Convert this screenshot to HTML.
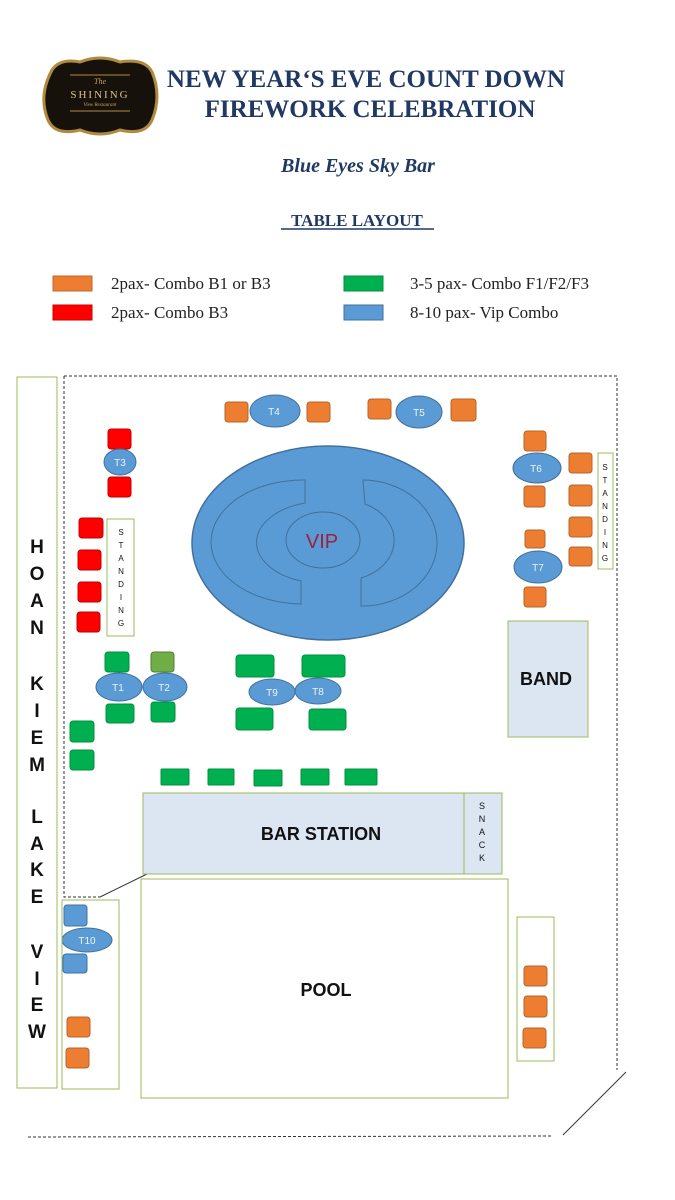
<!DOCTYPE html>
<html><head><meta charset="utf-8"><style>
html,body{margin:0;padding:0;background:#fff;}
svg{display:block}
</style></head><body>
<svg width="675" height="1200" viewBox="0 0 675 1200" xmlns="http://www.w3.org/2000/svg">
<!-- logo -->
<path d="M52,70 Q60,58 80,62 Q100,54 120,62 Q145,58 152,72 Q162,96 152,120 Q145,136 120,130 Q100,138 80,130 Q55,136 48,120 Q38,96 52,70 Z" fill="#17110c" stroke="#b08a3e" stroke-width="3"/>
<text x="100" y="84" font-family="Liberation Serif,serif" font-size="8" font-style="italic" fill="#c9a55a" text-anchor="middle">The</text>
<text x="100" y="98" font-family="Liberation Serif,serif" font-size="11" letter-spacing="2" fill="#d9c08a" text-anchor="middle">SHINING</text>
<text x="100" y="106" font-family="Liberation Serif,serif" font-size="5" font-style="italic" fill="#c9a55a" text-anchor="middle">View Restaurant</text>
<line x1="70" y1="111" x2="130" y2="111" stroke="#b08a3e" stroke-width="1"/>
<line x1="70" y1="75" x2="130" y2="75" stroke="#b08a3e" stroke-width="1"/>
<g font-family="Liberation Serif,serif" font-weight="bold" fill="#1f3864" text-anchor="middle">
<text x="366" y="87" font-size="25">NEW YEAR‘S EVE COUNT DOWN</text>
<text x="370" y="117" font-size="25">FIREWORK CELEBRATION</text>
<text x="358" y="172" font-size="20" font-style="italic">Blue Eyes Sky Bar</text>
<text x="357" y="226" font-size="17">TABLE LAYOUT</text>
</g>
<line x1="281" y1="229" x2="434" y2="229" stroke="#1f3864" stroke-width="1.5"/>
<!-- legend -->
<rect x="53" y="276" width="39" height="15" fill="#ed7d31" stroke="#c0682a"/>
<rect x="53" y="305" width="39" height="15" fill="#ff0000" stroke="#c00"/>
<rect x="344" y="276" width="39" height="15" fill="#00b050" stroke="#00903f"/>
<rect x="344" y="305" width="39" height="15" fill="#5b9bd5" stroke="#41719c"/>
<g font-family="Liberation Serif,serif" font-size="17" fill="#222">
<text x="111" y="289">2pax- Combo B1 or B3</text>
<text x="111" y="318">2pax- Combo B3</text>
<text x="410" y="289">3-5 pax- Combo F1/F2/F3</text>
<text x="410" y="318">8-10 pax- Vip Combo</text>
</g>
<!-- outline dashed -->
<g stroke="#333" stroke-width="1" stroke-dasharray="3,2" fill="none">
<path d="M64,376 L617,376 L617,1070"/>
<path d="M64,376 L64,897 L100,897"/>
<path d="M28,1137 L553,1136"/>
</g>
<line x1="100" y1="897" x2="149" y2="873" stroke="#333"/>
<line x1="626" y1="1072" x2="563" y2="1135" stroke="#333"/>
<!-- lake view -->
<rect x="17" y="377" width="40" height="711" fill="#fff" stroke="#9bbb59"/>
<g font-family="Liberation Sans,sans-serif" font-weight="bold" font-size="19" fill="#111" text-anchor="middle">
<text x="37" y="553">H</text><text x="37" y="580">O</text><text x="37" y="607">A</text><text x="37" y="634">N</text>
<text x="37" y="690">K</text><text x="37" y="717">I</text><text x="37" y="744">E</text><text x="37" y="771">M</text>
<text x="37" y="823">L</text><text x="37" y="850">A</text><text x="37" y="876">K</text><text x="37" y="903">E</text>
<text x="37" y="958">V</text><text x="37" y="985">I</text><text x="37" y="1011">E</text><text x="37" y="1038">W</text>
</g>
<!-- VIP -->
<ellipse cx="328" cy="543" rx="136" ry="97" fill="#5b9bd5" stroke="#41719c" stroke-width="1.5"/>
<g fill="none" stroke="#41719c" stroke-width="1">
<path d="M305,480 A92,62 0 0 0 301,604 L301,581 A67,41 0 0 1 305,503 Z"/>
<path d="M363,480 A75,63 0 0 1 361,606 L361,578 A50,40 0 0 0 365,504 Z"/>
<ellipse cx="323" cy="540" rx="37" ry="28"/>
</g>
<text x="322" y="548" font-family="Liberation Sans,sans-serif" font-size="20" fill="#a0203a" text-anchor="middle">VIP</text>
<!-- orange chairs -->
<g fill="#ed7d31" stroke="#b5652a">
<rect x="225" y="402" width="23" height="20" rx="3"/><rect x="307" y="402" width="23" height="20" rx="3"/>
<rect x="368" y="399" width="23" height="20" rx="3"/><rect x="451" y="399" width="25" height="22" rx="3"/>
<rect x="524" y="431" width="22" height="20" rx="3"/><rect x="524" y="486" width="21" height="21" rx="3"/>
<rect x="525" y="530" width="20" height="18" rx="3"/><rect x="524" y="587" width="22" height="20" rx="3"/>
<rect x="569" y="453" width="23" height="20" rx="3"/><rect x="569" y="485" width="23" height="21" rx="3"/>
<rect x="569" y="517" width="23" height="20" rx="3"/><rect x="569" y="547" width="23" height="19" rx="3"/>
<rect x="67" y="1017" width="23" height="20" rx="3"/><rect x="66" y="1048" width="23" height="20" rx="3"/>
<rect x="524" y="966" width="23" height="20" rx="3"/><rect x="524" y="996" width="23" height="21" rx="3"/><rect x="523" y="1028" width="23" height="20" rx="3"/>
</g>
<!-- red chairs -->
<g fill="#ff0000" stroke="#c00000">
<rect x="108" y="429" width="23" height="20" rx="3"/><rect x="108" y="477" width="23" height="20" rx="3"/>
<rect x="79" y="518" width="24" height="20" rx="3"/><rect x="78" y="550" width="23" height="20" rx="3"/>
<rect x="78" y="582" width="23" height="20" rx="3"/><rect x="77" y="612" width="23" height="20" rx="3"/>
</g>
<!-- green chairs -->
<g fill="#00b050" stroke="#00903f">
<rect x="105" y="652" width="24" height="20" rx="3"/>
<rect x="106" y="704" width="28" height="19" rx="3"/><rect x="151" y="702" width="24" height="20" rx="3"/>
<rect x="236" y="655" width="38" height="22" rx="3"/><rect x="302" y="655" width="43" height="22" rx="3"/>
<rect x="236" y="708" width="37" height="22" rx="3"/><rect x="309" y="709" width="37" height="21" rx="3"/>
<rect x="70" y="721" width="24" height="21" rx="3"/><rect x="70" y="750" width="24" height="20" rx="3"/>
<rect x="161" y="769" width="28" height="16" rx="1"/><rect x="208" y="769" width="26" height="16" rx="1"/>
<rect x="254" y="770" width="28" height="16" rx="1"/><rect x="301" y="769" width="28" height="16" rx="1"/><rect x="345" y="769" width="32" height="16" rx="1"/>
</g>
<rect x="151" y="652" width="23" height="20" rx="3" fill="#70ad47" stroke="#507e32"/>
<!-- blue chairs -->
<g fill="#5b9bd5" stroke="#41719c">
<rect x="64" y="905" width="23" height="21" rx="3"/><rect x="63" y="954" width="24" height="19" rx="3"/>
</g>
<!-- tables -->
<g fill="#5b9bd5" stroke="#41719c">
<ellipse cx="275" cy="411" rx="25" ry="16"/><ellipse cx="419" cy="412" rx="23" ry="16"/>
<ellipse cx="120" cy="462" rx="16" ry="13"/>
<ellipse cx="537" cy="468" rx="24" ry="15"/><ellipse cx="538" cy="567" rx="24" ry="16"/>
<ellipse cx="119" cy="687" rx="23" ry="14"/><ellipse cx="165" cy="687" rx="22" ry="14"/>
<ellipse cx="272" cy="692" rx="23" ry="13"/><ellipse cx="318" cy="691" rx="23" ry="13"/>
<ellipse cx="87" cy="940" rx="25" ry="12"/>
</g>
<g font-family="Liberation Sans,sans-serif" font-size="10" fill="#eef3fa" text-anchor="middle">
<text x="274" y="415">T4</text><text x="419" y="416">T5</text><text x="120" y="466">T3</text>
<text x="536" y="472">T6</text><text x="538" y="571">T7</text>
<text x="118" y="691">T1</text><text x="164" y="691">T2</text>
<text x="272" y="696">T9</text><text x="318" y="695">T8</text><text x="87" y="944">T10</text>
</g>
<!-- standing boxes -->
<rect x="107" y="519" width="27" height="117" fill="#fff" stroke="#9bbb59"/>
<rect x="598" y="453" width="15" height="116" fill="#fff" stroke="#9bbb59"/>
<g font-family="Liberation Sans,sans-serif" font-size="8" fill="#111" text-anchor="middle">
<text x="121" y="535">S</text><text x="121" y="548">T</text><text x="121" y="561">A</text><text x="121" y="574">N</text><text x="121" y="587">D</text><text x="121" y="600">I</text><text x="121" y="613">N</text><text x="121" y="626">G</text>
<text x="605" y="470">S</text><text x="605" y="483">T</text><text x="605" y="496">A</text><text x="605" y="509">N</text><text x="605" y="522">D</text><text x="605" y="535">I</text><text x="605" y="548">N</text><text x="605" y="561">G</text>
</g>
<!-- band -->
<rect x="508" y="621" width="80" height="116" fill="#dce6f2" stroke="#9bbb59"/>
<text x="546" y="685" font-family="Liberation Sans,sans-serif" font-weight="bold" font-size="18" fill="#111" text-anchor="middle">BAND</text>
<!-- bar -->
<rect x="143" y="793" width="321" height="81" fill="#dce6f2" stroke="#9bbb59"/>
<rect x="464" y="793" width="38" height="81" fill="#dce6f2" stroke="#9bbb59"/>
<text x="321" y="840" font-family="Liberation Sans,sans-serif" font-weight="bold" font-size="18" fill="#111" text-anchor="middle">BAR STATION</text>
<g font-family="Liberation Sans,sans-serif" font-size="9" fill="#111" text-anchor="middle">
<text x="482" y="809">S</text><text x="482" y="822">N</text><text x="482" y="835">A</text><text x="482" y="848">C</text><text x="482" y="861">K</text>
</g>
<!-- pool -->
<rect x="141" y="879" width="367" height="219" fill="#fff" stroke="#9bbb59"/>
<text x="326" y="996" font-family="Liberation Sans,sans-serif" font-weight="bold" font-size="18" fill="#111" text-anchor="middle">POOL</text>
<rect x="62" y="900" width="57" height="189" fill="none" stroke="#9bbb59"/>
<rect x="517" y="917" width="37" height="144" fill="none" stroke="#9bbb59"/>
</svg>
</body></html>
